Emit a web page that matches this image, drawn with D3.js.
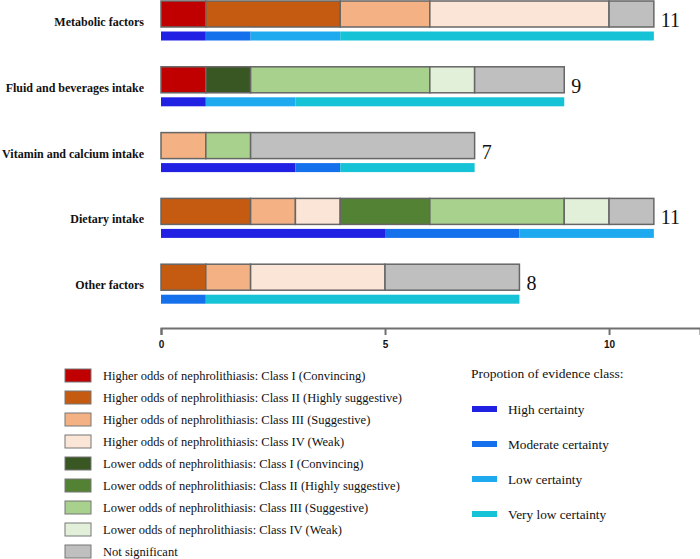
<!DOCTYPE html>
<html>
<head>
<meta charset="utf-8">
<script src="https://cdn.jsdelivr.net/npm/d3@7"></script>
<style>
html,body{margin:0;padding:0;background:#fff;}
svg{display:block;}
</style>
</head>
<body>
<svg id="chart" width="700" height="559"></svg>
<script>
// ---- Data ----
const categories = ["Metabolic factors", "Fluid and beverages intake", "Vitamin and calcium intake", "Dietary intake", "Other factors"];
const totals = [11, 9, 7, 11, 8];

const evidenceClasses = [
  "Higher odds of nephrolithiasis: Class I (Convincing)",
  "Higher odds of nephrolithiasis: Class II (Highly suggestive)",
  "Higher odds of nephrolithiasis: Class III (Suggestive)",
  "Higher odds of nephrolithiasis: Class IV (Weak)",
  "Lower odds of nephrolithiasis: Class I (Convincing)",
  "Lower odds of nephrolithiasis: Class II (Highly suggestive)",
  "Lower odds of nephrolithiasis: Class III (Suggestive)",
  "Lower odds of nephrolithiasis: Class IV (Weak)",
  "Not significant"
];
const evidenceColors = ["#C00000", "#C55A11", "#F4B183", "#FBE5D6", "#385723", "#548235", "#A9D18E", "#E2F0D9", "#BFBFBF"];

// counts per category, in order of evidenceClasses
const higherI   = [1, 1, 0, 0, 0];
const higherII  = [3, 0, 0, 2, 1];
const higherIII = [2, 0, 1, 1, 1];
const higherIV  = [4, 0, 0, 1, 3];
const lowerI    = [0, 1, 0, 0, 0];
const lowerII   = [0, 0, 0, 2, 0];
const lowerIII  = [0, 4, 1, 3, 0];
const lowerIV   = [0, 1, 0, 1, 0];
const notSig    = [1, 2, 5, 1, 3];

const certaintyLevels = ["High certainty", "Moderate certainty", "Low certainty", "Very low certainty"];
const certaintyColors = ["#2121E3", "#1570EC", "#1FA9EE", "#16C2D6"];
const highCert     = [1, 1, 3, 5, 0];
const moderateCert = [1, 0, 1, 3, 1];
const lowCert      = [2, 2, 0, 3, 0];
const veryLowCert  = [7, 6, 3, 0, 7];

const tickValues = [0, 5, 10];
const legendTitle = "Propotion of evidence class:";

// ---- Build ----
const evidenceSeries = [higherI, higherII, higherIII, higherIV, lowerI, lowerII, lowerIII, lowerIV, notSig];
const certaintySeries = [highCert, moderateCert, lowCert, veryLowCert];

const svg = d3.select("#chart");
const x = d3.scaleLinear().domain([0, 12.03]).range([161, 700]);
const y = d3.scaleBand().domain(categories).range([1, 330]).paddingInner(0).paddingOuter(0);
const barH = 26;
const subGap = 4.5;
const subH = 9;

function stackRows(seriesList) {
  return categories.map((c, i) => {
    let acc = 0;
    return seriesList.map((s, k) => {
      const seg = {cat: c, k: k, x0: acc, x1: acc + s[i]};
      acc += s[i];
      return seg;
    }).filter(d => d.x1 > d.x0);
  });
}

const evRows = stackRows(evidenceSeries);
const ceRows = stackRows(certaintySeries);

// certainty sub-bars
categories.forEach((c, i) => {
  svg.append("g").selectAll("rect").data(ceRows[i]).join("rect")
    .attr("x", d => x(d.x0))
    .attr("y", y(c) + barH + subGap)
    .attr("width", d => x(d.x1) - x(d.x0))
    .attr("height", subH)
    .attr("fill", d => certaintyColors[d.k]);
});

// main stacked bars
categories.forEach((c, i) => {
  svg.append("g").selectAll("rect").data(evRows[i]).join("rect")
    .attr("x", d => x(d.x0))
    .attr("y", y(c))
    .attr("width", d => x(d.x1) - x(d.x0))
    .attr("height", barH)
    .attr("fill", d => evidenceColors[d.k])
    .attr("stroke", "#666")
    .attr("stroke-width", 1.5);
});

// totals
svg.append("g").selectAll("text").data(categories).join("text")
  .attr("x", (c, i) => x(totals[i]) + 7)
  .attr("y", c => y(c) + barH)
  .attr("font-family", "'Liberation Serif', 'Times New Roman', serif")
  .attr("font-size", 20)
  .attr("fill", "#111")
  .text((c, i) => totals[i]);

// category labels
svg.append("g").selectAll("text").data(categories).join("text")
  .attr("x", 144)
  .attr("y", c => y(c) + barH - 1)
  .attr("text-anchor", "end")
  .attr("font-family", "'Liberation Serif', 'Times New Roman', serif")
  .attr("font-weight", "bold")
  .attr("font-size", 12)
  .attr("fill", "#111")
  .text(c => c);

// axis
const axis = d3.axisBottom(x).tickValues(tickValues).tickSizeInner(7).tickSizeOuter(7).tickPadding(6);
const ax = svg.append("g").attr("transform", "translate(0,328)").call(axis);
ax.select(".domain").attr("stroke", "#707070").attr("stroke-width", 2);
ax.selectAll(".tick line").attr("stroke", "#707070").attr("stroke-width", 2);
ax.selectAll(".tick text")
  .attr("font-family", "'Liberation Sans', Arial, sans-serif")
  .attr("font-weight", "bold")
  .attr("font-size", 10)
  .attr("fill", "#111");

// left legend
const lg = svg.append("g");
const lgItems = lg.selectAll("g").data(evidenceClasses).join("g")
  .attr("transform", (d, i) => `translate(65,${369 + i * 22})`);
lgItems.append("rect").attr("width", 26).attr("height", 13)
  .attr("fill", (d, i) => evidenceColors[i]).attr("stroke", "#777").attr("stroke-width", 1);
lgItems.append("text").attr("x", 38).attr("y", 11)
  .attr("font-family", "'Liberation Serif', 'Times New Roman', serif")
  .attr("font-size", 12.5)
  .attr("fill", "#111")
  .text(d => d);

// right legend
svg.append("text").attr("x", 471).attr("y", 378)
  .attr("font-family", "'Liberation Serif', 'Times New Roman', serif")
  .attr("font-size", 13.5).attr("fill", "#111").text(legendTitle);
const rg = svg.append("g").selectAll("g").data(certaintyLevels).join("g")
  .attr("transform", (d, i) => `translate(472,${406 + i * 35})`);
rg.append("rect").attr("width", 25).attr("height", 6).attr("fill", (d, i) => certaintyColors[i]);
rg.append("text").attr("x", 36).attr("y", 7.5)
  .attr("font-family", "'Liberation Serif', 'Times New Roman', serif")
  .attr("font-size", 13.3).attr("fill", "#111").text(d => d);
</script>
</body>
</html>
